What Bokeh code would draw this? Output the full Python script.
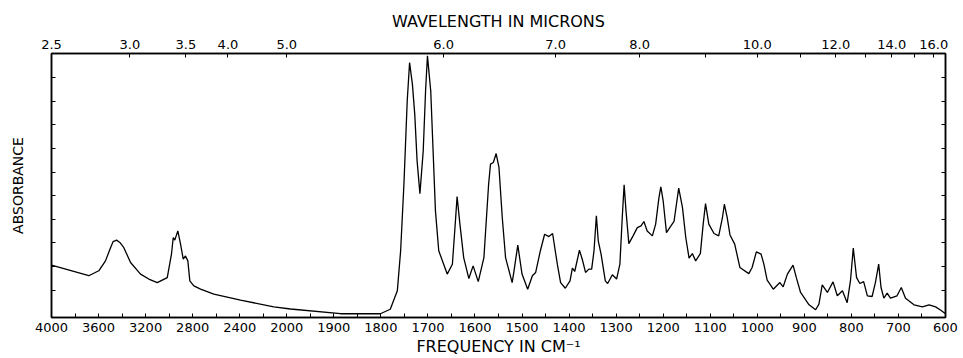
import numpy as np
from bokeh.plotting import figure
from bokeh.models import LinearAxis, FixedTicker, Range1d, ColumnDataSource
from bokeh.embed import file_html
from bokeh.resources import INLINE

# ---- data (frequency in cm-1, absorbance) ----
wavenumber = [
    4000, 3683, 3598, 3541, 3498, 3476, 3447, 3419, 3385, 3328,
    3243, 3173, 3101, 3016, 2980, 2965, 2952, 2926, 2903, 2880,
    2861, 2841, 2824, 2790, 2733, 2620, 2393, 2110, 1992, 1886,
    1801, 1780, 1765, 1758, 1751, 1744, 1739, 1733, 1728, 1723,
    1717, 1710, 1705, 1701, 1694, 1689, 1684, 1677, 1659, 1648,
    1641, 1638, 1632, 1624, 1613, 1604, 1593, 1581, 1571, 1567,
    1561, 1555, 1549, 1542, 1535, 1521, 1517, 1509, 1500, 1488,
    1478, 1471, 1461, 1452, 1443, 1435, 1425, 1418, 1408, 1398,
    1393, 1388, 1378, 1372, 1365, 1358, 1352, 1347, 1342, 1338,
    1332, 1323, 1318, 1308, 1299, 1292, 1287, 1283, 1279, 1273,
    1264, 1255, 1247, 1241, 1234, 1223, 1216, 1209, 1205, 1200,
    1193, 1186, 1177, 1167, 1159, 1152, 1145, 1138, 1131, 1121,
    1115, 1110, 1103, 1092, 1082, 1074, 1070, 1064, 1058, 1048,
    1037, 1018, 1011, 1002, 992, 986, 979, 966, 952, 945,
    936, 924, 917, 908, 890, 876, 869, 862, 851, 839,
    830, 819, 809, 802, 796, 789, 782, 774, 766, 756,
    749, 742, 737, 731, 724, 717, 703, 694, 685, 667,
    649, 635, 621, 610, 600,
]
absorbance = [
    0.206, 0.161, 0.182, 0.224, 0.280, 0.306, 0.312, 0.302, 0.280, 0.217,
    0.168, 0.147, 0.132, 0.153, 0.253, 0.323, 0.312, 0.351, 0.295, 0.231,
    0.245, 0.224, 0.139, 0.118, 0.104, 0.083, 0.058, 0.029, 0.020, 0.000,
    0.000, 0.019, 0.097, 0.267, 0.549, 0.902, 1.064, 0.973, 0.846, 0.648,
    0.509, 0.690, 0.944, 1.093, 0.944, 0.690, 0.436, 0.267, 0.168, 0.210,
    0.408, 0.497, 0.380, 0.238, 0.149, 0.203, 0.136, 0.238, 0.549, 0.634,
    0.641, 0.679, 0.620, 0.408, 0.238, 0.132, 0.182, 0.291, 0.168, 0.104,
    0.161, 0.175, 0.267, 0.337, 0.327, 0.340, 0.210, 0.132, 0.108, 0.139,
    0.193, 0.179, 0.269, 0.231, 0.175, 0.189, 0.189, 0.267, 0.415, 0.309,
    0.253, 0.139, 0.128, 0.165, 0.147, 0.210, 0.408, 0.546, 0.436, 0.297,
    0.330, 0.365, 0.372, 0.391, 0.351, 0.330, 0.380, 0.492, 0.538, 0.478,
    0.344, 0.365, 0.391, 0.532, 0.450, 0.323, 0.236, 0.255, 0.224, 0.255,
    0.380, 0.467, 0.380, 0.340, 0.330, 0.408, 0.464, 0.408, 0.334, 0.295,
    0.196, 0.170, 0.196, 0.262, 0.253, 0.210, 0.142, 0.104, 0.132, 0.114,
    0.168, 0.206, 0.153, 0.090, 0.038, 0.017, 0.041, 0.122, 0.090, 0.135,
    0.076, 0.097, 0.047, 0.139, 0.278, 0.153, 0.128, 0.136, 0.076, 0.073,
    0.132, 0.210, 0.111, 0.066, 0.087, 0.066, 0.076, 0.111, 0.066, 0.038,
    0.029, 0.038, 0.029, 0.015, 0.000,
]
assert len(wavenumber) == len(absorbance)

freq_labels = [4000, 3600, 3200, 2800, 2400, 2000, 1900, 1800, 1700, 1600,
               1500, 1400, 1300, 1200, 1100, 1000, 900, 800, 700, 600]
micron_labels = [2.5, 3.0, 3.5, 4.0, 5.0, 6.0, 7.0, 8.0, 10.0, 12.0, 14.0, 16.0]
micron_minor = [9.0, 11.0, 13.0, 15.0]
absorbance_ticks = [0.1, 0.2, 0.3, 0.4, 0.5, 0.6, 0.7, 0.8, 0.9, 1.0]


def chart_pos(wn):
    """Chart's piecewise-linear frequency scale: 400 cm-1 per division above
    2000 cm-1, 100 cm-1 per division below."""
    wn = np.asarray(wn, dtype=float)
    return np.where(wn >= 2000, (4000.0 - wn) / 400.0, 5.0 + (2000.0 - wn) / 100.0)


FONT = "DejaVu Sans"

p = figure(width=963, height=358, output_backend="svg", toolbar_location=None,
           x_range=Range1d(float(chart_pos(4000)), float(chart_pos(600))),
           y_range=Range1d(-0.016, 1.103),
           min_border_left=51, min_border_right=18,
           min_border_top=53, min_border_bottom=41)
p.grid.visible = False
p.outline_line_color = "black"
p.outline_line_width = 1.5
p.background_fill_color = "white"
p.border_fill_color = "white"

src = ColumnDataSource(dict(x=chart_pos(wavenumber), y=absorbance))
p.line("x", "y", source=src, line_color="black", line_width=1.3)


def style_axis(ax, label_size="13px"):
    ax.axis_line_color = "black"
    ax.axis_line_width = 1.5
    ax.major_tick_line_color = "black"
    ax.minor_tick_line_color = "black"
    ax.major_tick_in = 4
    ax.major_tick_out = 0
    ax.minor_tick_in = 4
    ax.minor_tick_out = 0
    ax.major_label_text_font = FONT
    ax.major_label_text_font_size = label_size
    ax.major_label_text_color = "black"
    ax.axis_label_text_font = FONT
    ax.axis_label_text_font_style = "normal"
    ax.axis_label_text_color = "black"


# bottom: frequency
fpos = [float(v) for v in chart_pos(freq_labels)]
fminor = [(a + b) / 2 for a, b in zip(fpos[:-1], fpos[1:])]
xa = p.xaxis[0]
style_axis(xa)
xa.ticker = FixedTicker(ticks=fpos, minor_ticks=fminor)
xa.major_label_overrides = {v: str(l) for v, l in zip(fpos, freq_labels)}
xa.major_label_standoff = 5
xa.axis_label = "FREQUENCY IN CM⁻¹"
xa.axis_label_text_font_size = "16px"
xa.axis_label_standoff = 2

# top: wavelength in microns
mpos = [float(v) for v in chart_pos([10000.0 / m for m in micron_labels])]
mminor = [float(v) for v in chart_pos([10000.0 / m for m in micron_minor])]
top = LinearAxis(ticker=FixedTicker(ticks=mpos, minor_ticks=mminor))
style_axis(top)
top.major_label_overrides = {v: f"{m:.1f}" for v, m in zip(mpos, micron_labels)}
top.major_label_standoff = 5
top.axis_label = "WAVELENGTH IN MICRONS"
top.axis_label_text_font_size = "16px"
top.axis_label_standoff = 6
p.add_layout(top, "above")

# left: absorbance (ticks without numbers)
ya = p.yaxis[0]
style_axis(ya)
ya.ticker = FixedTicker(ticks=absorbance_ticks, minor_ticks=[])
ya.major_label_overrides = {t: "" for t in absorbance_ticks}
ya.major_label_standoff = 0
ya.axis_label = "ABSORBANCE"
ya.axis_label_text_font_size = "14px"
ya.axis_label_standoff = 26

right = LinearAxis(ticker=FixedTicker(ticks=absorbance_ticks, minor_ticks=[]))
style_axis(right)
right.major_label_overrides = {t: "" for t in absorbance_ticks}
right.major_label_standoff = 0
p.add_layout(right, "right")

open("out.html", "w").write(file_html(p, INLINE))
